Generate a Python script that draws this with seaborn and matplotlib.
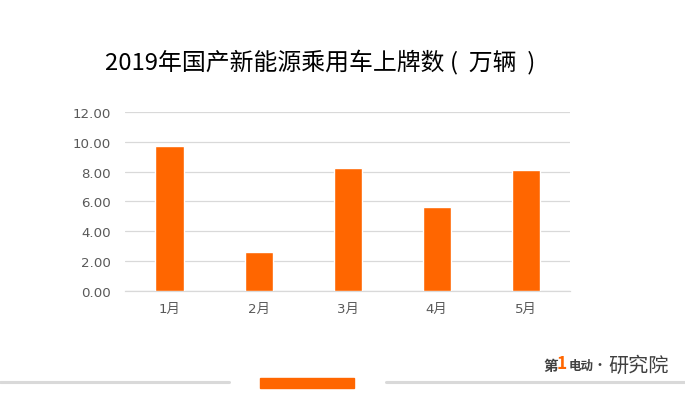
import matplotlib.pyplot as plt
import pandas as pd
import seaborn as sns

# data (万辆)
months = ["1月", "2月", "3月", "4月", "5月"]
values = [9.70, 2.61, 8.26, 5.63, 8.13]
yticks = [0, 2, 4, 6, 8, 10, 12]

df = pd.DataFrame({"month": months, "value": values})

sns.set_style("white")
plt.rcParams["font.family"] = ["Noto Sans CJK SC", "DejaVu Sans"]
tick_font = ["DejaVu Sans", "Noto Sans CJK SC"]

fig = plt.figure(figsize=(6.85, 4.1), dpi=100)
ax = fig.add_axes([0.1825, 0.2878, 0.6497, 0.4366])

sns.barplot(data=df, x="month", y="value", color="#FF6600", saturation=1,
            width=0.315, ax=ax, zorder=3)

ax.set_ylim(0, 12)
ax.set_xlim(-0.5, 4.5)
ax.set_yticks(yticks)
ax.set_yticklabels([f"{t:.2f}" for t in yticks])
ax.yaxis.grid(True, color="#d9d9d9", lw=0.9, zorder=0)
ax.tick_params(axis="both", length=0, labelsize=9.6, labelcolor="#595959")
ax.tick_params(axis="x", pad=8)
ax.tick_params(axis="y", pad=10)
for lab in ax.get_xticklabels() + ax.get_yticklabels():
    lab.set_family(tick_font)
ax.set_xlabel("")
ax.set_ylabel("")
for s in ["left", "right", "top"]:
    ax.spines[s].set_visible(False)
ax.spines["bottom"].set_color("#d9d9d9")
ax.spines["bottom"].set_linewidth(0.9)

fig.text(0.467, 0.846, "2019年国产新能源乘用车上牌数 (  万辆  )", ha="center", va="center",
         fontsize=17.2, color="#000000")

# footer decoration
fig.add_artist(plt.Line2D([0, 229 / 685], [1 - 382.5 / 410] * 2, color="#d9d9d9", lw=2.2))
fig.add_artist(plt.Line2D([386 / 685, 1], [1 - 382.5 / 410] * 2, color="#d9d9d9", lw=2.2))
fig.add_artist(plt.Rectangle((260 / 685, 1 - 389 / 410), 94 / 685, 10 / 410,
                             color="#FF6600", transform=fig.transFigure))

# logo text
ly = 1 - 366 / 410
fig.text(669 / 685, ly, "研究院", ha="right", va="center", fontsize=14.5, color="#404040")
fig.text(600 / 685, ly, "•", ha="center", va="center", fontsize=10, color="#404040")
fig.text(543 / 685, ly, "第", ha="left", va="center", fontsize=10.5, color="#404040",
         fontweight="bold")
fig.text(557 / 685, ly + 0.004, "1", ha="left", va="center", fontsize=12.5, color="#FF6600",
         fontweight="bold", fontstyle="italic")
fig.text(569 / 685, ly, "电动", ha="left", va="center", fontsize=9, color="#404040",
         fontweight="bold")

fig.savefig("out.png", dpi=100)
